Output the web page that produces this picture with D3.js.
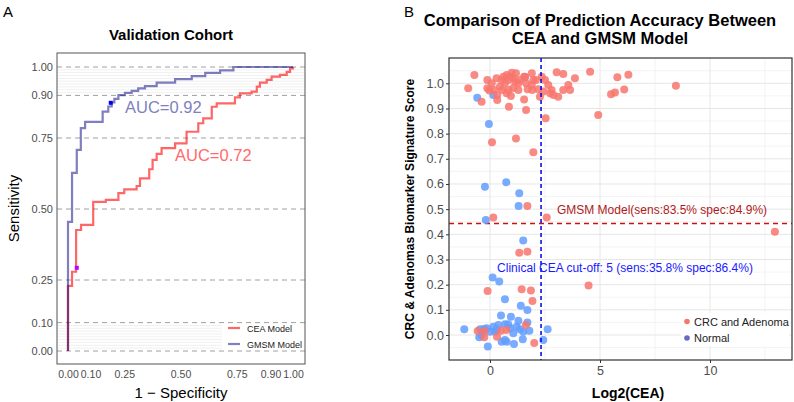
<!DOCTYPE html>
<html>
<head>
<meta charset="utf-8">
<script src="https://cdn.jsdelivr.net/npm/d3@7"></script>
<style>
  body { margin: 0; background: #fff; }
  svg { font-family: "Liberation Sans", Arial, sans-serif; }
</style>
</head>
<body>
<div id="chart-area"></div>
<script>
// ---- panel A data (ROC curves) ----
const rocTicks = [0, 0.10, 0.25, 0.50, 0.75, 0.90, 1.00];
const gmsmFpr = [0, 0, 0.018, 0.039, 0.057, 0.076, 0.154, 0.179, 0.194, 0.206, 0.224, 0.253, 0.283, 0.312, 0.342, 0.394, 0.476, 0.550, 0.610, 0.676, 0.735, 1];
const gmsmTpr = [0, 0.455, 0.627, 0.708, 0.785, 0.807, 0.843, 0.861, 0.875, 0.888, 0.901, 0.909, 0.916, 0.925, 0.933, 0.945, 0.957, 0.968, 0.979, 0.988, 1.0, 1];
const ceaFpr = [0, 0, 0.018, 0.036, 0.058, 0.112, 0.168, 0.224, 0.250, 0.305, 0.320, 0.361, 0.376, 0.394, 0.416, 0.476, 0.527, 0.579, 0.601, 0.639, 0.661, 0.742, 0.764, 0.816, 0.839, 0.853, 0.883, 0.905, 0.942, 0.972, 0.987, 1];
const ceaTpr = [0, 0.229, 0.279, 0.426, 0.444, 0.525, 0.532, 0.556, 0.569, 0.581, 0.608, 0.640, 0.673, 0.694, 0.714, 0.731, 0.772, 0.802, 0.819, 0.860, 0.872, 0.893, 0.907, 0.913, 0.931, 0.945, 0.955, 0.966, 0.972, 0.983, 0.995, 1];
const gmsmBest = [0.190, 0.874];
const ceaBest = [0.039, 0.293];

// ---- panel B data (scatter) ----
const crcLog2 = [-0.71, -0.99, -0.38, -0.12, -0.12, -0.03, 0.08, 0.30, 0.33, 0.33, 0.53, 0.61, 0.76, 0.68, 0.83, 0.91, 0.99, 1.06, 1.18, 1.14, 1.29, 1.29, 0.76, 0.83, 0.86, 1.55, 1.64, 1.59, 1.90, 1.90, 1.97, 1.71, 1.92, 1.64, 1.55, 2.20, 2.27, 2.35, 2.50, 2.65, 2.73, 2.42, 2.80, 2.88, 3.10, 3.03, 3.33, 3.56, 3.33, 3.64, 3.86, 4.55, 2.53, 4.92, 1.18, 0.09, 1.97, 5.50, 5.68, 5.79, 6.10, 6.29, 8.45, 0.45, 1.05, 1.36, 0.55, 0.95, 0.18, 2.09,
  1.70, 0.15, 2.58, 12.95, 1.33, 1.70, 4.48, -0.11, 1.44, 1.86, 1.93, 2.01, -0.56, -0.25, -0.26, 0.32, 0.50, 0.75, 1.63];
const crcScore = [1.033, 0.980, 0.927, 1.013, 0.980, 0.971, 1.000, 1.020, 0.954, 0.934, 1.013, 1.026, 1.033, 1.000, 1.013, 1.026, 1.042, 1.020, 1.040, 1.006, 1.000, 0.973, 0.960, 0.973, 0.907, 1.026, 1.000, 1.026, 1.040, 0.993, 1.013, 0.976, 0.973, 0.894, 0.936, 0.976, 0.947, 1.026, 1.013, 0.993, 0.960, 0.967, 0.973, 0.954, 0.947, 1.044, 1.037, 0.993, 0.973, 0.973, 1.020, 1.046, 0.861, 0.874, 0.781, 0.766, 0.726, 0.956, 0.963, 1.024, 0.975, 1.034, 0.990, 0.986, 0.981, 1.013, 0.973, 0.950, 0.973, 1.013,
  0.513, 0.467, 0.467, 0.410, 0.327, 0.331, 0.197, 0.175, 0.182, 0.177, 0.135, -0.032, 0.016, 0.016, -0.009, -0.007, 0.017, 0.020, 0.040];
const normLog2 = [-0.58, 0.15, -0.05, -0.23, 0.74, 1.33, 1.30, -0.19, 1.51, 0.12, 0.42, 0.68, 1.40, 1.70, 0.50, 0.95, 1.29, 1.70, -1.17, -0.45, -0.15, 0.15, 0.38, 0.68, 0.83, 0.00, 0.23, -0.38, -0.49, -0.10, 0.53, 0.68, 0.76, 1.09, 1.06, 1.36, 1.51, 1.49, 1.79, 2.42, 2.62, 1.21, 1.59, -0.27, 0.32, 0.91];
const normScore = [0.943, 0.954, 0.838, 0.589, 0.607, 0.563, 0.513, 0.457, 0.375, 0.228, 0.213, 0.142, 0.116, 0.099, 0.077, 0.073, 0.057, 0.050, 0.023, 0.023, 0.027, 0.033, 0.040, 0.043, 0.043, 0.013, 0.013, 0.000, -0.009, -0.046, -0.027, -0.020, -0.027, -0.036, 0.007, 0.023, 0.013, -0.017, 0.017, -0.020, 0.023, 0.033, 1.024, 0.024, 0.022, 0.028];
const scoreTicks = [0, 0.1, 0.2, 0.3, 0.4, 0.5, 0.6, 0.7, 0.8, 0.9, 1.0];
const ceaTicks = [0, 5, 10];
const ceaCutLog2 = 2.32;
const gmsmCutScore = 0.443;

const svg = d3.select("#chart-area").append("svg").attr("width", 794).attr("height", 402);

// ================= Panel A =================
const boxA = {left: 57, top: 53, right: 305, bottom: 364};
const xA = d3.scaleLinear().domain([0, 1]).range([68, 293]);
const yA = d3.scaleLinear().domain([0, 1]).range([351, 67]);

svg.append("text").attr("x", 3).attr("y", 17).attr("font-size", "15px").text("A");
svg.append("text").attr("x", 171).attr("y", 40).attr("text-anchor", "middle")
  .attr("font-size", "15px").attr("font-weight", "bold").text("Validation Cohort");

const gA = svg.append("g");
// faint lines in the top and bottom bands
const faint = d3.range(1, 10).map(i => i / 100);
faint.forEach(v => {
  gA.append("line").attr("x1", boxA.left).attr("x2", boxA.right)
    .attr("y1", yA(0.9 + v)).attr("y2", yA(0.9 + v)).attr("stroke", "#e6e6e6").attr("stroke-width", 0.6);
  gA.append("line").attr("x1", boxA.left).attr("x2", 222)
    .attr("y1", yA(v)).attr("y2", yA(v)).attr("stroke", "#e6e6e6").attr("stroke-width", 0.6);
});
rocTicks.forEach(v => {
  gA.append("line").attr("x1", boxA.left).attr("x2", boxA.right)
    .attr("y1", yA(v)).attr("y2", yA(v))
    .attr("stroke", "#a0a0a0").attr("stroke-width", 1).attr("stroke-dasharray", "5,4");
});

const rocLine = d3.line().x(d => xA(d[0])).y(d => yA(d[1])).curve(d3.curveStepAfter);
gA.append("path").datum(ceaFpr.map((f, i) => [f, ceaTpr[i]]))
  .attr("d", rocLine).attr("fill", "none").attr("stroke", "#ff0000").attr("stroke-opacity", 0.6).attr("stroke-width", 2.2);
gA.append("path").datum(gmsmFpr.map((f, i) => [f, gmsmTpr[i]]))
  .attr("d", rocLine).attr("fill", "none").attr("stroke", "#000080").attr("stroke-opacity", 0.5).attr("stroke-width", 2.2);

gA.append("rect").attr("x", xA(gmsmBest[0]) - 2).attr("y", yA(gmsmBest[1]) - 2).attr("width", 4).attr("height", 4).attr("fill", "#0000ee");
gA.append("rect").attr("x", xA(ceaBest[0]) - 2).attr("y", yA(ceaBest[1]) - 2).attr("width", 4).attr("height", 4).attr("fill", "#bb00ff");

gA.append("text").attr("x", 125).attr("y", 113).attr("font-size", "16.5px").attr("fill", "#8080c0").text("AUC=0.92");
gA.append("text").attr("x", 175).attr("y", 161).attr("font-size", "16.5px").attr("fill", "#ff6a6a").text("AUC=0.72");

// legend
const legA = gA.append("g");
[["CEA Model", "#ff6666"], ["GMSM Model", "#8080c0"]].forEach((d, i) => {
  const yy = 328 + i * 16;
  legA.append("line").attr("x1", 228).attr("x2", 240).attr("y1", yy).attr("y2", yy).attr("stroke", d[1]).attr("stroke-width", 2.2);
  legA.append("text").attr("x", 247).attr("y", yy + 3.5).attr("font-size", "9px").attr("fill", "#222").text(d[0]);
});

gA.append("rect").attr("x", boxA.left).attr("y", boxA.top).attr("width", boxA.right - boxA.left)
  .attr("height", boxA.bottom - boxA.top).attr("fill", "none").attr("stroke", "#555").attr("stroke-width", 1);

const axA = svg.append("g").attr("transform", `translate(0, ${boxA.bottom})`)
  .call(d3.axisBottom(xA).tickValues(rocTicks).tickFormat(d3.format(".2f")).tickSize(0).tickPadding(7));
axA.select(".domain").remove();
axA.selectAll("text").attr("font-size", "10.5px").attr("fill", "#4d4d4d").attr("font-family", "Liberation Sans, Arial, sans-serif");
const ayA = svg.append("g").attr("transform", `translate(${boxA.left}, 0)`)
  .call(d3.axisLeft(yA).tickValues(rocTicks).tickFormat(d3.format(".2f")).tickSize(0).tickPadding(4));
ayA.select(".domain").remove();
ayA.selectAll("text").attr("font-size", "11px").attr("fill", "#4d4d4d").attr("font-family", "Liberation Sans, Arial, sans-serif");

svg.append("text").attr("x", 181).attr("y", 398).attr("text-anchor", "middle").attr("font-size", "15px").text("1 \u2212 Specificity");
svg.append("text").attr("transform", `translate(19, ${(boxA.top + boxA.bottom) / 2}) rotate(-90)`)
  .attr("text-anchor", "middle").attr("font-size", "15px").text("Sensitivity");

// ================= Panel B =================
const boxB = {left: 449, top: 58, right: 792, bottom: 360};
const xB = d3.scaleLinear().domain([0, 10]).range([490, 710]);
const yB = d3.scaleLinear().domain([0, 1]).range([335, 83.3]);

svg.append("text").attr("x", 404).attr("y", 17).attr("font-size", "15px").text("B");
const titleB = svg.append("text").attr("text-anchor", "middle").attr("font-size", "16.5px").attr("font-weight", "bold");
titleB.append("tspan").attr("x", 600).attr("y", 26).text("Comparison of Prediction Accuracy Between");
titleB.append("tspan").attr("x", 600).attr("y", 44).text("CEA and GMSM Model");

const gB = svg.append("g");
const yMinor = d3.range(-0.05, 1.1, 0.1);
const xMinor = [2.5, 7.5, 12.5];
yMinor.forEach(v => gB.append("line").attr("x1", boxB.left).attr("x2", boxB.right).attr("y1", yB(v)).attr("y2", yB(v)).attr("stroke", "#f0f0f0").attr("stroke-width", 0.8));
xMinor.forEach(v => gB.append("line").attr("y1", boxB.top).attr("y2", boxB.bottom).attr("x1", xB(v)).attr("x2", xB(v)).attr("stroke", "#f0f0f0").attr("stroke-width", 0.8));
scoreTicks.forEach(v => gB.append("line").attr("x1", boxB.left).attr("x2", boxB.right).attr("y1", yB(v)).attr("y2", yB(v)).attr("stroke", "#e6e6e6").attr("stroke-width", 1));
ceaTicks.forEach(v => gB.append("line").attr("y1", boxB.top).attr("y2", boxB.bottom).attr("x1", xB(v)).attr("x2", xB(v)).attr("stroke", "#e6e6e6").attr("stroke-width", 1));

// cut-off lines
gB.append("line").attr("x1", boxB.left).attr("x2", boxB.right).attr("y1", yB(gmsmCutScore)).attr("y2", yB(gmsmCutScore))
  .attr("stroke", "#cc1111").attr("stroke-width", 1.5).attr("stroke-dasharray", "5,4");

const crc = crcLog2.map((x, i) => ({x, y: crcScore[i]}));
const norm = normLog2.map((x, i) => ({x, y: normScore[i]}));
gB.selectAll("circle.norm").data(norm).enter().append("circle").attr("class", "norm")
  .attr("cx", d => xB(d.x)).attr("cy", d => yB(d.y)).attr("r", 4).attr("fill", "#619cff").attr("fill-opacity", 0.85);
gB.selectAll("circle.crc").data(crc).enter().append("circle").attr("class", "crc")
  .attr("cx", d => xB(d.x)).attr("cy", d => yB(d.y)).attr("r", 4).attr("fill", "#f8766d").attr("fill-opacity", 0.85);

gB.append("line").attr("y1", boxB.top).attr("y2", boxB.bottom).attr("x1", xB(ceaCutLog2)).attr("x2", xB(ceaCutLog2))
  .attr("stroke", "#0000ee").attr("stroke-width", 1.5).attr("stroke-dasharray", "4,3");

gB.append("text").attr("x", 662).attr("y", 214).attr("text-anchor", "middle").attr("font-size", "12px").attr("fill", "#b01a1a")
  .text("GMSM Model(sens:83.5% spec:84.9%)");
gB.append("text").attr("x", 625).attr("y", 272).attr("text-anchor", "middle").attr("font-size", "12px").attr("fill", "#1a1aff")
  .text("Clinical CEA cut-off: 5 (sens:35.8% spec:86.4%)");

// legend
gB.append("rect").attr("x", 681).attr("y", 313).attr("width", 108).attr("height", 33).attr("fill", "#fff");
[["CRC and Adenoma", "#f8766d"], ["Normal", "#6a6abf"]].forEach((d, i) => {
  const yy = 321.5 + i * 16.5;
  gB.append("circle").attr("cx", 687).attr("cy", yy).attr("r", 2.8).attr("fill", d[1]);
  gB.append("text").attr("x", 694).attr("y", yy + 4).attr("font-size", "11px").attr("fill", "#222").text(d[0]);
});

gB.append("rect").attr("x", boxB.left).attr("y", boxB.top).attr("width", boxB.right - boxB.left)
  .attr("height", boxB.bottom - boxB.top).attr("fill", "none").attr("stroke", "#333").attr("stroke-width", 1.2);

const axB = svg.append("g").attr("transform", `translate(0, ${boxB.bottom})`)
  .call(d3.axisBottom(xB).tickValues(ceaTicks).tickFormat(d3.format("d")).tickSize(3).tickPadding(3));
axB.select(".domain").remove();
axB.selectAll("line").attr("stroke", "#333");
axB.selectAll("text").attr("font-size", "12.5px").attr("fill", "#4d4d4d").attr("font-family", "Liberation Sans, Arial, sans-serif");
const ayB = svg.append("g").attr("transform", `translate(${boxB.left}, 0)`)
  .call(d3.axisLeft(yB).tickValues(scoreTicks).tickFormat(d3.format(".1f")).tickSize(3).tickPadding(2));
ayB.select(".domain").remove();
ayB.selectAll("line").attr("stroke", "#333");
ayB.selectAll("text").attr("font-size", "12.5px").attr("fill", "#4d4d4d").attr("font-family", "Liberation Sans, Arial, sans-serif");

svg.append("text").attr("x", 628).attr("y", 398).attr("text-anchor", "middle").attr("font-size", "14px").attr("font-weight", "bold").text("Log2(CEA)");
svg.append("text").attr("transform", `translate(414, ${(boxB.top + boxB.bottom) / 2}) rotate(-90)`)
  .attr("text-anchor", "middle").attr("font-size", "12px").attr("font-weight", "bold").text("CRC & Adenomas Biomarker Signature Score");
</script>
</body>
</html>
